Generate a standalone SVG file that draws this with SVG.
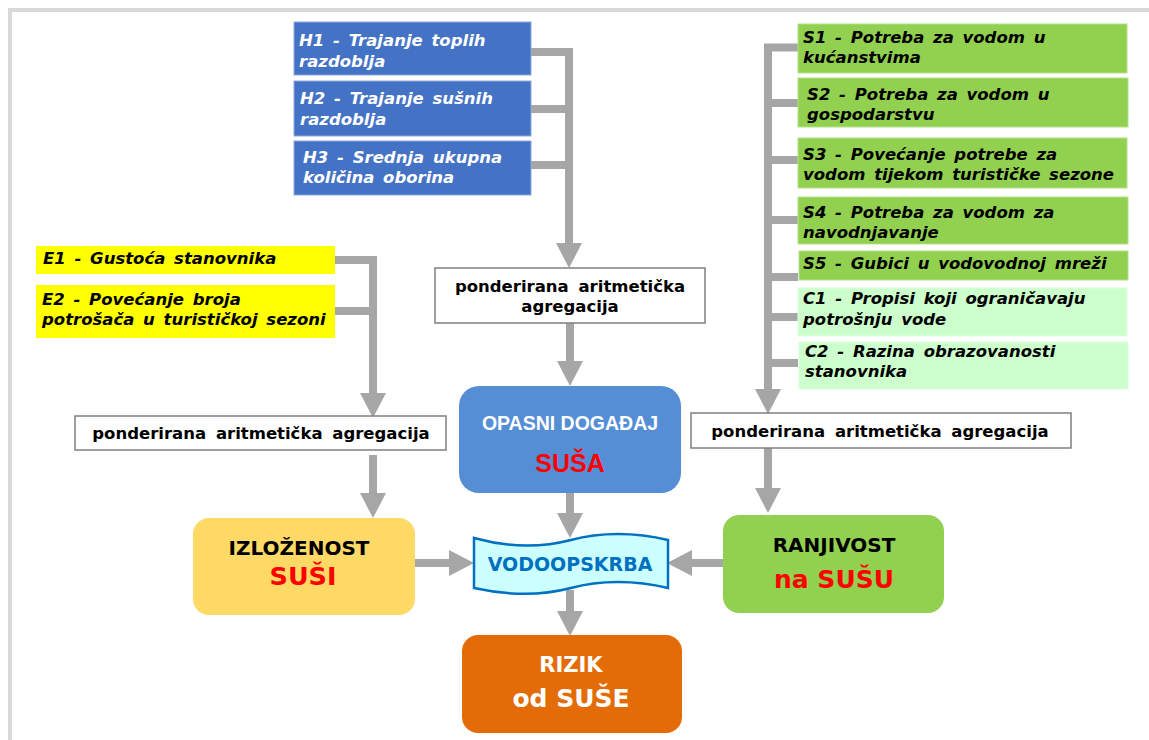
<svg xmlns="http://www.w3.org/2000/svg" width="1149" height="740" viewBox="0 0 1149 740">
<style>
.it{font-family:"DejaVu Sans",Verdana,sans-serif;font-weight:bold;font-style:italic;font-size:16.5px;word-spacing:3px}
.w{fill:#ffffff}
.k{fill:#000000}
.agg{font-family:"DejaVu Sans",Verdana,sans-serif;font-weight:bold;font-size:16.5px;word-spacing:4px;fill:#000;text-anchor:middle}
.aggbox{fill:#ffffff;stroke:#7f7f7f;stroke-width:1.5}
.hbox{fill:#4472c4;stroke:#8faadc;stroke-width:1}
.sbox{fill:#92d050;stroke:#b4e08a;stroke-width:1}
.cbox{fill:#ccffcc;stroke:#e0ffe0;stroke-width:1}
.ebox{fill:#ffff00}
.conn{fill:none;stroke:#a6a6a6;stroke-width:8;stroke-linejoin:miter}
.big{font-family:"DejaVu Sans",Verdana,sans-serif;font-weight:bold;text-anchor:middle}
.ar{font-family:"Liberation Sans",Arial,sans-serif;font-weight:bold;text-anchor:middle}
</style>
<defs>
<marker id="ah" markerUnits="userSpaceOnUse" markerWidth="26" markerHeight="26" refX="0" refY="13" orient="auto" overflow="visible">
<path d="M0,0 L25,13 L0,26 Z" fill="#a6a6a6"/>
</marker>
</defs>
<rect x="0" y="0" width="1149" height="740" fill="#ffffff"/>
<rect x="8" y="8" width="1141" height="4" fill="#d9d9d9"/>
<rect x="8" y="8" width="4" height="732" fill="#d9d9d9"/>

<g id="connectors">
<path class="conn" d="M531,52 H569 M531,109 H569 M531,165 H569 M569,48 V243" marker-end="url(#ah)"/>
<path class="conn" d="M570,322 V361" marker-end="url(#ah)"/>
<path class="conn" d="M798,47.5 H768 M798,103 H768 M798,160 H768 M798,220 H768 M798,277 H768 M798,317 H768 M798,363 H768 M768,43.5 V389" marker-end="url(#ah)"/>
<path class="conn" d="M335,260 H373 M335,311 H373 M373,256 V393" marker-end="url(#ah)"/>
<path class="conn" d="M373,455 V493" marker-end="url(#ah)"/>
<path class="conn" d="M768,448 V488" marker-end="url(#ah)"/>
<path class="conn" d="M570,493 V513" marker-end="url(#ah)"/>
<path class="conn" d="M570,590 V611" marker-end="url(#ah)"/>
<path class="conn" d="M414,563 H449" marker-end="url(#ah)"/>
<path class="conn" d="M723,563 H692" marker-end="url(#ah)"/>
</g>

<g id="H1"><rect class="hbox" x="294" y="22" width="237" height="53"/>
<text class="it w" x="299" y="46">H1 - Trajanje toplih</text><text class="it w" x="299" y="67">razdoblja</text></g>
<g id="H2"><rect class="hbox" x="294" y="81" width="237" height="55"/>
<text class="it w" x="300" y="104">H2 - Trajanje sušnih</text><text class="it w" x="300" y="125">razdoblja</text></g>
<g id="H3"><rect class="hbox" x="294" y="141" width="237" height="54"/>
<text class="it w" x="303" y="163">H3 - Srednja ukupna</text><text class="it w" x="303" y="183">količina  oborina</text></g>

<g id="S1"><rect class="sbox" x="798" y="24" width="329" height="49"/>
<text class="it k" x="803" y="43">S1 - Potreba za vodom u</text><text class="it k" x="803" y="63">kućanstvima</text></g>
<g id="S2"><rect class="sbox" x="798" y="78" width="330" height="49"/>
<text class="it k" x="807" y="100">S2 - Potreba za vodom u</text><text class="it k" x="807" y="120">gospodarstvu</text></g>
<g id="S3"><rect class="sbox" x="798" y="138" width="329" height="50"/>
<text class="it k" x="803" y="160">S3 - Povećanje potrebe za</text><text class="it k" x="803" y="180">vodom tijekom turističke sezone</text></g>
<g id="S4"><rect class="sbox" x="798" y="197" width="330" height="47"/>
<text class="it k" x="803" y="218">S4 - Potreba za vodom za</text><text class="it k" x="803" y="238">navodnjavanje</text></g>
<g id="S5"><rect class="sbox" x="799" y="251" width="329" height="29"/>
<text class="it k" x="803" y="269">S5 - Gubici u vodovodnoj mreži</text></g>
<g id="C1"><rect class="cbox" x="798" y="288" width="329" height="48"/>
<text class="it k" x="803" y="304">C1 - Propisi koji ograničavaju</text><text class="it k" x="803" y="325">potrošnju vode</text></g>
<g id="C2"><rect class="cbox" x="799" y="342" width="329" height="47"/>
<text class="it k" x="805" y="357">C2 - Razina obrazovanosti</text><text class="it k" x="805" y="377">stanovnika</text></g>

<g id="E1"><rect class="ebox" x="36" y="246" width="299" height="28"/>
<text class="it k" x="43" y="264">E1 - Gustoća stanovnika</text></g>
<g id="E2"><rect class="ebox" x="36" y="285" width="299" height="53"/>
<text class="it k" x="42" y="305">E2 - Povećanje broja</text><text class="it k" x="42" y="325">potrošača u turističkoj sezoni</text></g>

<g id="agg-top"><rect class="aggbox" x="435" y="268" width="270" height="55"/>
<text class="agg" x="570" y="292">ponderirana aritmetička</text><text class="agg" x="570" y="312">agregacija</text></g>
<g id="agg-left"><rect class="aggbox" x="75" y="416" width="371" height="34"/>
<text class="agg" x="261" y="439">ponderirana aritmetička agregacija</text></g>
<g id="agg-right"><rect class="aggbox" x="691" y="413" width="380" height="35"/>
<text class="agg" x="880" y="437">ponderirana aritmetička agregacija</text></g>

<g id="opasni"><rect x="459" y="386" width="222" height="107" rx="20" fill="#558ed5"/>
<text class="ar" x="570" y="430" font-size="19.5" fill="#ffffff">OPASNI DOGAĐAJ</text>
<text class="ar" x="570" y="472" font-size="25" fill="#ff0000">SUŠA</text></g>

<g id="izlozenost"><rect x="193" y="518" width="222" height="97" rx="16" fill="#ffd966"/>
<text class="big" x="299" y="555" font-size="20" fill="#000000">IZLOŽENOST</text>
<text class="big" x="303" y="585" font-size="25.5" fill="#ff0000">SUŠI</text></g>

<g id="ranjivost"><rect x="723" y="515" width="221" height="98" rx="16" fill="#92d050"/>
<text class="big" x="834" y="552" font-size="20" fill="#000000">RANJIVOST</text>
<text class="big" x="834" y="588" font-size="25" fill="#ff0000">na SUŠU</text></g>

<g id="vodoopskrba"><path d="M474,538 C510,548 540,548 571,540 C600,532 635,532 668,540 L668,588 C635,580 600,580 571,588 C540,596 510,596 474,588 Z" fill="#ccffff" stroke="#0070c0" stroke-width="2.5"/>
<text class="big" x="570" y="571" font-size="19" fill="#0070c0">VODOOPSKRBA</text></g>

<g id="rizik"><rect x="462" y="635" width="220" height="98" rx="16" fill="#e36c09"/>
<text class="big" x="571" y="672" font-size="21" fill="#ffffff">RIZIK</text>
<text class="big" x="571" y="707" font-size="25" fill="#ffffff">od SUŠE</text></g>
</svg>
